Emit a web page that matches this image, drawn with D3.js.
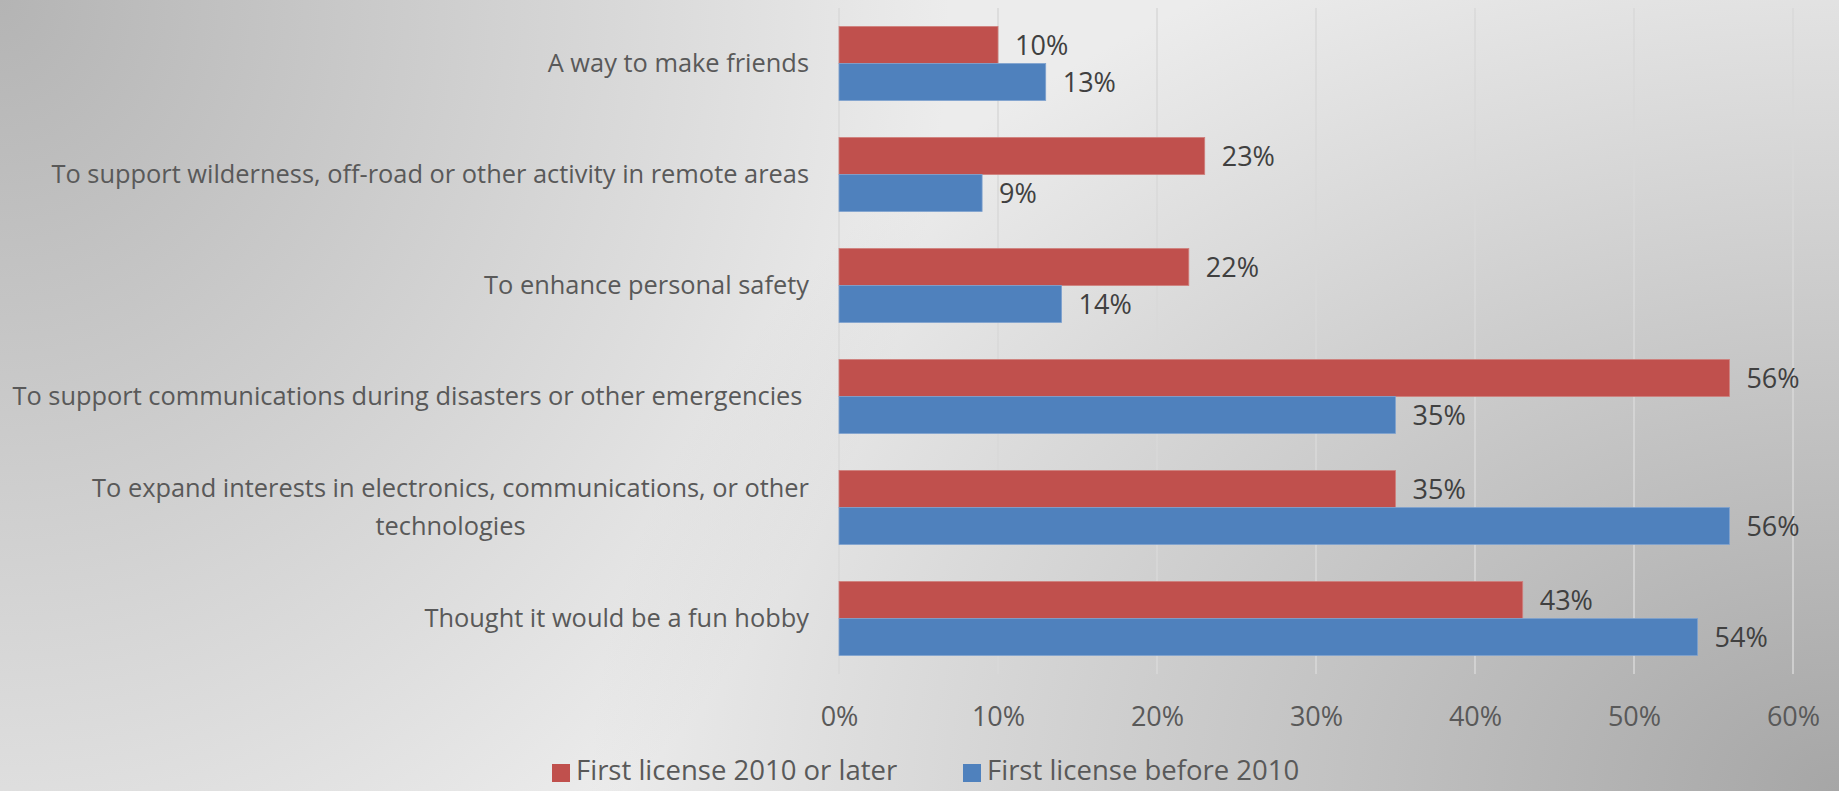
<!DOCTYPE html>
<html>
<head>
<meta charset="utf-8">
<script src="https://cdn.jsdelivr.net/npm/d3@7"></script>
<style>
  html, body { margin: 0; padding: 0; overflow: hidden; background: #e6e6e6; }
  svg { display: block; }
  text { font-family: "Open Sans", "Noto Sans", sans-serif; }
</style>
</head>
<body>
<svg id="chart" width="1839" height="791"></svg>
<script>
// ---- data ----
const categories = [
  ["A way to make friends"],
  ["To support wilderness, off-road or other activity in remote areas"],
  ["To enhance personal safety"],
  ["To support communications during disasters or other emergencies "],
  ["To expand interests in electronics, communications, or other", "technologies"],
  ["Thought it would be a fun hobby"]
];
const seriesNames = ["First license 2010 or later", "First license before 2010"];
const seriesColors = ["#C0504D", "#4F81BD"];
const after2010 = [0.10, 0.23, 0.22, 0.56, 0.35, 0.43];
const before2010 = [0.13, 0.09, 0.14, 0.35, 0.56, 0.54];
const tickValues = [0, 0.1, 0.2, 0.3, 0.4, 0.5, 0.6];

const W = 1839, H = 791;
const svg = d3.select("#chart");
const defs = svg.append("defs");

// ---- background ----
svg.append("rect").attr("width", W).attr("height", H).attr("fill", "#ececec");
function radial(id, color) {
  const g = defs.append("radialGradient").attr("id", id);
  g.append("stop").attr("offset", 0).attr("stop-color", color).attr("stop-opacity", 1);
  g.append("stop").attr("offset", 1).attr("stop-color", color).attr("stop-opacity", 0);
}
radial("gTL", "#b4b4b4");
radial("gBR", "#a6a6a6");
svg.append("ellipse").attr("cx", 0).attr("cy", 0).attr("rx", 950).attr("ry", 1050).attr("fill", "url(#gTL)");
svg.append("ellipse").attr("cx", W).attr("cy", H).attr("rx", 1250).attr("ry", 920).attr("fill", "url(#gBR)");

// ---- scales ----
const x = d3.scaleLinear().domain([0, 0.6]).range([839, 1793]);
const y = d3.scaleBand().domain(d3.range(categories.length)).range([8, 674])
  .paddingInner(1/3).paddingOuter(1/6);
const ySub = d3.scaleBand().domain([0, 1]).range([0, y.bandwidth()]);

// ---- gridlines ----
svg.append("g").selectAll("line").data(tickValues).join("line")
  .attr("x1", d => x(d)).attr("x2", d => x(d))
  .attr("y1", 8).attr("y2", 674)
  .attr("stroke", "#d9d9d9").attr("stroke-width", 1.5);

// ---- x axis tick labels ----
const xAxis = d3.axisBottom(x).tickValues(tickValues).tickFormat(d3.format(".0%")).tickSize(0).tickPadding(0);
const gx = svg.append("g").attr("transform", "translate(0,726)").call(xAxis);
gx.select(".domain").remove();
gx.selectAll("text").attr("dy", 0).attr("y", 0)
  .style("font-family", '"Open Sans", sans-serif').style("font-size", "27px").attr("fill", "#595959");

// ---- bars ----
const seriesData = [after2010, before2010];
seriesData.forEach((vals, s) => {
  const g = svg.append("g");
  g.selectAll("rect").data(vals).join("rect")
    .attr("x", x(0))
    .attr("y", (d, i) => y(i) + ySub(s))
    .attr("width", d => x(d) - x(0))
    .attr("height", ySub.bandwidth())
    .attr("fill", seriesColors[s])
    .attr("stroke", s === 0 ? "#cf7f7c" : "#7fa2cf").attr("stroke-width", 0.8);
  g.selectAll("text").data(vals).join("text")
    .attr("x", d => x(d) + 17)
    .attr("y", (d, i) => y(i) + ySub(s) + ySub.bandwidth() / 2)
    .attr("dy", "0.36em")
    .style("font-size", "27px").attr("fill", "#404040")
    .text(d => d3.format(".0%")(d));
});

// ---- category labels ----
const labelRight = 809;
const lineH = 38;
categories.forEach((lines, i) => {
  const cy = y(i) + y.bandwidth() / 2;
  const t = svg.append("text").style("font-size", "25.4px").attr("fill", "#595959")
    .style("white-space", "pre");
  const n = lines.length;
  lines.forEach((ln, k) => {
    t.append("tspan").text(ln)
      .attr("y", cy + (k - (n - 1) / 2) * lineH).attr("dy", "0.35em");
  });
  if (n === 1) {
    t.attr("text-anchor", "end").selectAll("tspan").attr("x", labelRight);
  } else {
    let maxW = 0;
    t.selectAll("tspan").each(function() { maxW = Math.max(maxW, this.getComputedTextLength()); });
    t.attr("text-anchor", "middle").selectAll("tspan").attr("x", labelRight - maxW / 2);
  }
});

// ---- legend ----
const legendX = [552, 963];
const legend = svg.append("g");
seriesNames.forEach((name, s) => {
  legend.append("rect").attr("x", legendX[s]).attr("y", 764).attr("width", 18).attr("height", 18)
    .attr("fill", seriesColors[s]);
  legend.append("text").attr("x", legendX[s] + 24).attr("y", 780)
    .style("font-size", "27.5px").attr("fill", "#595959").text(name);
});
</script>
</body>
</html>
